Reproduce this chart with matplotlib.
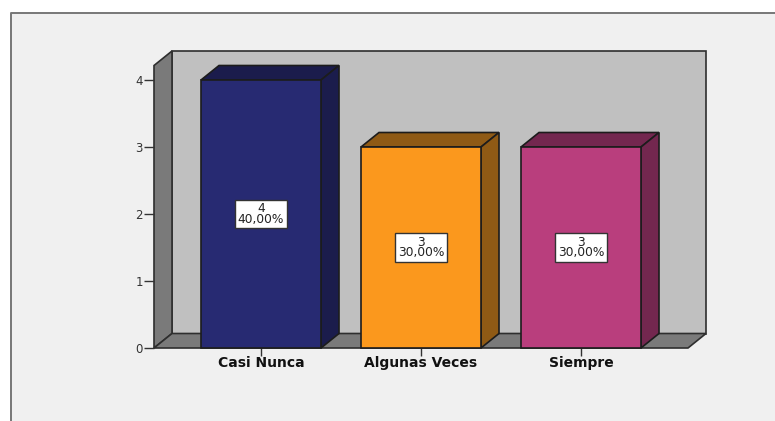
import matplotlib
matplotlib.use("Agg")
import matplotlib.pyplot as plt
from matplotlib.patches import Polygon, Rectangle

W, H = 775, 421

categories = ["Casi Nunca", "Algunas Veces", "Siempre"]
counts = [4, 3, 3]
percents = ["40,00%", "30,00%", "30,00%"]
yticks = [0, 1, 2, 3, 4]
colors = ["#272a72", "#fb981d", "#b93e7d"]
dark_colors = ["#1b1c4c", "#8f5a15", "#73274f"]

WALL = "#c0c0c0"
FLOOR = "#7a7a7a"
EDGE = "#2e2e2e"
BAR_W = 0.75
# 3d offset in data units (18px right, 14.5px up)
DX = 18 / 160
DY = 14.5 / 67
YMAX = (348 - 65.5) / 67
XMIN, XMAX = -107 / 160, 2 + 107 / 160


def face(ax, pts, color, z=2, edge=EDGE):
    ax.add_patch(Polygon(pts, closed=True, facecolor=color, edgecolor=edge,
                         linewidth=1.2, joinstyle="miter", zorder=z, clip_on=False))


fig = plt.figure(figsize=(W / 100, H / 100), dpi=100, facecolor="white")

# grey panel with the dark frame on top and left
bg = fig.add_axes([0, 0, 1, 1])
bg.set_xlim(0, W)
bg.set_ylim(H, 0)
bg.axis("off")
bg.add_patch(Rectangle((10, 13), W, H, facecolor="#f0f0f0", edgecolor="none"))
bg.plot([10.5, 10.5, W], [H, 13, 13], color="#777777", lw=1.4, solid_capstyle="butt")

ax = fig.add_axes([154 / W, 1 - 348 / H, (688 - 154) / W, (348 - 65.5) / H])
ax.set_xlim(XMIN, XMAX)
ax.set_ylim(0, YMAX)
ax.patch.set_visible(False)
for s in ax.spines.values():
    s.set_visible(False)

# walls and floor
face(ax, [(XMIN + DX, DY), (XMAX + DX, DY), (XMAX + DX, YMAX + DY), (XMIN + DX, YMAX + DY)], WALL, 1)
face(ax, [(XMIN, 0), (XMIN + DX, DY), (XMIN + DX, YMAX + DY), (XMIN, YMAX)], FLOOR, 1)
face(ax, [(XMIN, 0), (XMAX, 0), (XMAX + DX, DY), (XMIN + DX, DY)], FLOOR, 1)

# bars
for i, v in enumerate(counts):
    l, r = i - BAR_W / 2, i + BAR_W / 2
    face(ax, [(l, v), (r, v), (r + DX, v + DY), (l + DX, v + DY)], dark_colors[i], 2, "#1c1c1c")
    face(ax, [(r, 0), (r + DX, DY), (r + DX, v + DY), (r, v)], dark_colors[i], 2, "#1c1c1c")
    face(ax, [(l, 0), (r, 0), (r, v), (l, v)], colors[i], 3, "#1c1c1c")
    ax.text(i, v / 2, f"{v}\n{percents[i]}", ha="center", va="center", fontsize=8.8,
            family="DejaVu Sans", color="#222222", linespacing=0.75, zorder=5,
            bbox=dict(boxstyle="square,pad=0.2", facecolor="white", edgecolor="#333333", linewidth=1))

ax.set_yticks(yticks)
ax.set_yticklabels([str(t) for t in yticks], fontsize=8.5, family="DejaVu Sans", color="#333333")
ax.set_xticks(range(len(categories)))
ax.set_xticklabels(categories, fontsize=10, family="DejaVu Sans", fontweight="bold", color="#111111")
ax.tick_params(axis="y", length=7, width=1, color="#333333", pad=1)
ax.tick_params(axis="x", length=6, width=1, color="#333333", pad=0)

fig.savefig("out.png", dpi=100, facecolor=fig.get_facecolor())
